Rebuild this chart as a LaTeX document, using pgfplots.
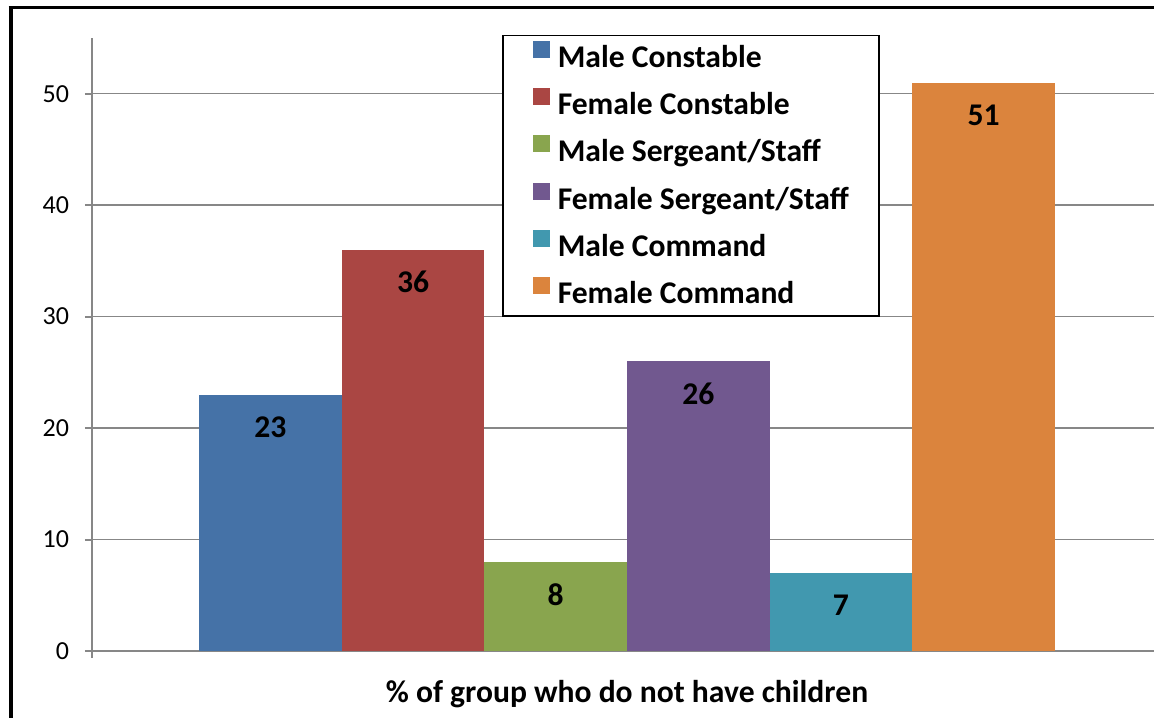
\documentclass[border=0pt]{standalone}
\usepackage{fontspec}
\setmainfont{Carlito}
\usepackage{pgfplots}
\pgfplotsset{compat=1.18}
\definecolor{mcblue}{HTML}{4572A7}
\definecolor{fcred}{HTML}{AA4643}
\definecolor{msgreen}{HTML}{89A54E}
\definecolor{fspurple}{HTML}{71588F}
\definecolor{mcteal}{HTML}{4198AF}
\definecolor{fcorange}{HTML}{DB843D}
\definecolor{axisgray}{HTML}{878787}

\begin{document}
\begin{tikzpicture}
\begin{axis}[
  at={(46pt,33pt)}, anchor=south west,
  scale only axis,
  width=535pt, height=306.5pt,
  xmin=0, xmax=1, ymin=0, ymax=55,
  ybar=0pt, bar width=71.33pt,
  axis lines*=left,
  axis line style={axisgray, line width=1pt},
  xtick={0,1}, xticklabels={},
  ytick={0,10,20,30,40,50},
  tick align=outside, major tick length=3.5pt,
  tick style={axisgray, line width=1pt},
  ymajorgrids, grid style={axisgray, line width=0.75pt},
  /pgf/number format/assume math mode=true,
  yticklabel style={font=\fontsize{13}{15}\selectfont, xshift=-4.5pt},
  xlabel={\bfseries\% of group who do not have children},
  xlabel style={at={(axis description cs:0.5,0)}, anchor=base, yshift=-25.5pt,
    font=\fontsize{15.8}{19}\selectfont},
  nodes near coords,
  every node near coord/.append style={anchor=center, yshift=-16.25pt,
    font=\fontsize{15.8}{19}\selectfont\bfseries, text=black},
  legend style={at={(rel axis cs:0.3832,1.0049)}, anchor=north west,
    draw=black, line width=0.75pt, inner xsep=15pt, inner ysep=2.5pt,
    row sep=6.9pt, column sep=4pt,
    nodes={inner sep=0pt, text height=11.5pt, text depth=3.5pt},
    font=\fontsize{15.8}{19}\selectfont\bfseries},
  legend cell align=left,
  legend image code/.code={\path[#1,draw=none] (0pt,0.75pt) rectangle (8.5pt,9.25pt);},
]
\addplot[fill=mcblue, draw=none] coordinates {(0.5,23)};
\addplot[fill=fcred, draw=none] coordinates {(0.5,36)};
\addplot[fill=msgreen, draw=none] coordinates {(0.5,8)};
\addplot[fill=fspurple, draw=none] coordinates {(0.5,26)};
\addplot[fill=mcteal, draw=none] coordinates {(0.5,7)};
\addplot[fill=fcorange, draw=none] coordinates {(0.5,51)};
\legend{Male Constable, Female Constable, Male Sergeant/Staff, Female Sergeant/Staff, Male Command, Female Command}
\end{axis}
% outer chart frame, cropped at right and bottom
\draw[line width=2pt] (5.25pt,-2pt) -- (5.25pt,354.75pt);
\draw[line width=1.5pt] (4.25pt,354.75pt) -- (590pt,354.75pt);
\pgfresetboundingbox
\path[use as bounding box] (0pt,0pt) rectangle (577pt,358.5pt);
\end{tikzpicture}
\end{document}
